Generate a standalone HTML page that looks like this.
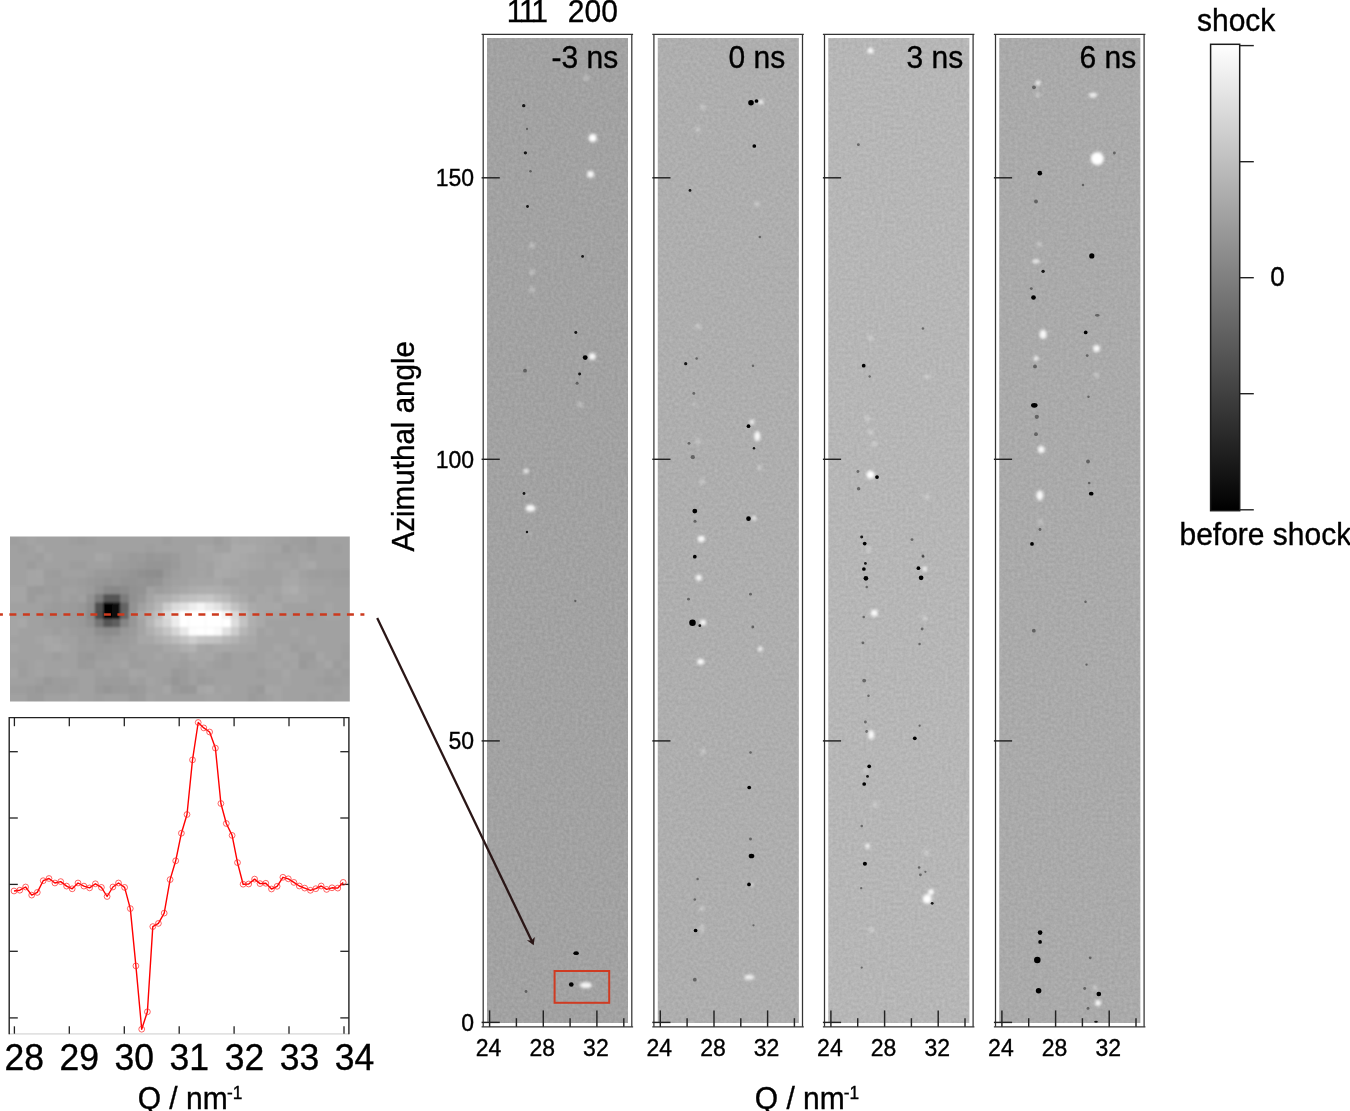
<!DOCTYPE html>
<html lang="en"><head><meta charset="utf-8"><title>Azimuthal angle vs Q diffraction difference maps</title>
<style>html,body{margin:0;padding:0;background:#fff}body{width:1350px;height:1111px;overflow:hidden}svg{display:block}text{font-family:"Liberation Sans", Arial, Helvetica, sans-serif;fill:#000;stroke:#000;stroke-width:0.35px}</style></head><body>
<svg width="1350" height="1111" viewBox="0 0 1350 1111">
<defs>
<filter id="n0" x="0" y="0" width="100%" height="100%" color-interpolation-filters="sRGB"><feTurbulence type="fractalNoise" baseFrequency="0.33" numOctaves="2" seed="3"/><feColorMatrix type="matrix" values="0.100 0 0 0 0.5853  0.100 0 0 0 0.5853  0.100 0 0 0 0.5853  0 0 0 0 1"/></filter>
<filter id="n1" x="0" y="0" width="100%" height="100%" color-interpolation-filters="sRGB"><feTurbulence type="fractalNoise" baseFrequency="0.33" numOctaves="2" seed="7"/><feColorMatrix type="matrix" values="0.100 0 0 0 0.6324  0.100 0 0 0 0.6324  0.100 0 0 0 0.6324  0 0 0 0 1"/></filter>
<filter id="n2" x="0" y="0" width="100%" height="100%" color-interpolation-filters="sRGB"><feTurbulence type="fractalNoise" baseFrequency="0.33" numOctaves="2" seed="11"/><feColorMatrix type="matrix" values="0.100 0 0 0 0.6637  0.100 0 0 0 0.6637  0.100 0 0 0 0.6637  0 0 0 0 1"/></filter>
<filter id="n3" x="0" y="0" width="100%" height="100%" color-interpolation-filters="sRGB"><feTurbulence type="fractalNoise" baseFrequency="0.33" numOctaves="2" seed="15"/><feColorMatrix type="matrix" values="0.100 0 0 0 0.6167  0.100 0 0 0 0.6167  0.100 0 0 0 0.6167  0 0 0 0 1"/></filter>
<filter id="b1" x="-50%" y="-50%" width="200%" height="200%"><feGaussianBlur stdDeviation="0.75"/></filter>
<filter id="b2" x="-50%" y="-50%" width="200%" height="200%"><feGaussianBlur stdDeviation="1.4"/></filter>
<filter id="b3" x="-20%" y="-20%" width="140%" height="140%"><feGaussianBlur stdDeviation="1.3"/></filter>
<linearGradient id="cb" x1="0" y1="0" x2="0" y2="1"><stop offset="0" stop-color="#fff"/><stop offset="1" stop-color="#000"/></linearGradient>
<clipPath id="insclip"><rect x="10" y="536.4" width="339.8" height="165.1"/></clipPath>
<clipPath id="c0"><rect x="487.1" y="38.1" width="140.9" height="984.9"/></clipPath>
<clipPath id="c1"><rect x="657.8" y="38.1" width="140.9" height="984.9"/></clipPath>
<clipPath id="c2"><rect x="828.4" y="38.1" width="140.9" height="984.9"/></clipPath>
<clipPath id="c3"><rect x="999.4" y="38.1" width="140.9" height="984.9"/></clipPath>
</defs>
<rect width="1350" height="1111" fill="#fff"/>
<g clip-path="url(#c0)">
<rect x="487.1" y="38.1" width="140.9" height="984.9" fill="#a2a2a2"/>
<rect x="487.1" y="38.1" width="140.9" height="984.9" fill="#a2a2a2" filter="url(#n0)"/>
<g filter="url(#b2)">
<circle cx="532.0" cy="245.5" r="2.85" fill="#ffffff" opacity="0.30"/>
<circle cx="531.7" cy="272.0" r="2.85" fill="#ffffff" opacity="0.30"/>
<circle cx="586.0" cy="78.0" r="2.85" fill="#ffffff" opacity="0.30"/>
<circle cx="580.0" cy="404.7" r="2.85" fill="#ffffff" opacity="0.30"/>
<circle cx="529.5" cy="533.0" r="1.42" fill="#ffffff" opacity="0.30"/>
<circle cx="532.0" cy="290.0" r="2.85" fill="#ffffff" opacity="0.30"/>
<circle cx="527.0" cy="495.0" r="1.42" fill="#ffffff" opacity="0.30"/>
</g>
<g filter="url(#b1)">
<circle cx="530.5" cy="171.2" r="1.23" fill="#303030" opacity="0.60"/>
<circle cx="577.1" cy="383.3" r="1.52" fill="#303030" opacity="0.60"/>
<circle cx="526.0" cy="991.5" r="1.42" fill="#303030" opacity="0.60"/>
<circle cx="575.3" cy="601.0" r="1.14" fill="#303030" opacity="0.60"/>
<circle cx="525.0" cy="370.7" r="1.90" fill="#303030" opacity="0.60"/>
<circle cx="527.0" cy="129.0" r="1.14" fill="#303030" opacity="0.60"/>
</g>
<g filter="url(#b2)">
<circle cx="592.7" cy="138.0" r="4.00" fill="#ffffff"/>
<circle cx="590.5" cy="174.2" r="3.50" fill="#ffffff" opacity="0.92"/>
<circle cx="592.2" cy="356.4" r="3.50" fill="#ffffff" opacity="0.92"/>
<circle cx="526.0" cy="471.0" r="2.50" fill="#ffffff" opacity="0.82"/>
<ellipse cx="530.5" cy="508.3" rx="5.00" ry="3.50" fill="#ffffff" opacity="0.92"/>
<ellipse cx="585.9" cy="985.2" rx="6.00" ry="3.00" fill="#ffffff" opacity="0.92"/>
</g>
<g filter="url(#b1)">
<circle cx="523.7" cy="105.7" r="1.67" fill="#050505" opacity="0.88"/>
<circle cx="525.4" cy="152.8" r="1.67" fill="#050505" opacity="0.88"/>
<circle cx="527.5" cy="206.5" r="1.40" fill="#050505" opacity="0.88"/>
<circle cx="582.6" cy="256.4" r="1.40" fill="#050505" opacity="0.88"/>
<circle cx="575.8" cy="332.4" r="1.49" fill="#050505" opacity="0.88"/>
<circle cx="585.2" cy="357.6" r="2.42" fill="#050505"/>
<circle cx="579.6" cy="374.0" r="1.49" fill="#050505" opacity="0.88"/>
<circle cx="524.0" cy="493.5" r="1.40" fill="#050505" opacity="0.88"/>
<circle cx="527.0" cy="532.0" r="1.21" fill="#050505" opacity="0.88"/>
<ellipse cx="576.1" cy="953.2" rx="2.79" ry="1.86" fill="#050505"/>
<circle cx="571.3" cy="984.5" r="2.33" fill="#050505"/>
</g>
</g>
<g stroke="#333" stroke-width="1.25" fill="none">
<path d="M481.6 34.3H633.1"/>
<path d="M481.6 1026.8H633.1"/>
<path d="M483.2 34.3V1026.8"/>
<path d="M631.8 34.3V1026.8"/>
</g>
<g stroke="#222" stroke-width="1.45">
<path d="M481.6 1022.4H499.8"/>
<path d="M481.6 740.9H499.8"/>
<path d="M481.6 459.3H499.8"/>
<path d="M481.6 177.8H499.8"/>
<path d="M489.6 1026.8V1010.4"/>
<path d="M516.4 1026.8V1018.2"/>
<path d="M543.3 1026.8V1010.4"/>
<path d="M570.1 1026.8V1018.2"/>
<path d="M596.9 1026.8V1010.4"/>
<path d="M623.8 1026.8V1018.2"/>
</g>
<text transform="translate(488.6 1055.8) scale(1 1.040)" font-size="23" text-anchor="middle">24</text>
<text transform="translate(542.3 1055.8) scale(1 1.040)" font-size="23" text-anchor="middle">28</text>
<text transform="translate(595.9 1055.8) scale(1 1.040)" font-size="23" text-anchor="middle">32</text>
<text transform="translate(551.6 67.5) scale(1 1.040)" font-size="30">-3 ns</text>
<g clip-path="url(#c1)">
<rect x="657.8" y="38.1" width="140.9" height="984.9" fill="#aeaeae"/>
<rect x="657.8" y="38.1" width="140.9" height="984.9" fill="#aeaeae" filter="url(#n1)"/>
<g filter="url(#b2)">
<circle cx="703.0" cy="107.0" r="2.85" fill="#ffffff" opacity="0.30"/>
<circle cx="698.0" cy="129.6" r="2.85" fill="#ffffff" opacity="0.30"/>
<circle cx="757.0" cy="204.0" r="2.85" fill="#ffffff" opacity="0.30"/>
<circle cx="698.0" cy="326.6" r="2.85" fill="#ffffff" opacity="0.30"/>
<circle cx="693.8" cy="404.7" r="1.90" fill="#ffffff" opacity="0.30"/>
<circle cx="698.0" cy="441.3" r="2.85" fill="#ffffff" opacity="0.30"/>
<circle cx="759.8" cy="467.8" r="2.85" fill="#ffffff" opacity="0.30"/>
<circle cx="701.9" cy="481.6" r="2.85" fill="#ffffff" opacity="0.30"/>
<circle cx="700.6" cy="540.0" r="2.85" fill="#ffffff" opacity="0.30"/>
<circle cx="703.0" cy="751.7" r="2.85" fill="#ffffff" opacity="0.30"/>
<circle cx="701.9" cy="908.4" r="2.85" fill="#ffffff" opacity="0.30"/>
<ellipse cx="701.9" cy="928.5" rx="2.38" ry="4.75" fill="#ffffff" opacity="0.30"/>
</g>
<g filter="url(#b1)">
<circle cx="759.8" cy="237.0" r="1.23" fill="#303030" opacity="0.60"/>
<circle cx="696.6" cy="358.6" r="1.23" fill="#303030" opacity="0.60"/>
<circle cx="753.0" cy="365.7" r="1.23" fill="#303030" opacity="0.60"/>
<circle cx="693.8" cy="393.4" r="1.42" fill="#303030" opacity="0.60"/>
<circle cx="689.0" cy="443.3" r="1.42" fill="#303030" opacity="0.60"/>
<circle cx="692.8" cy="457.2" r="2.09" fill="#303030" opacity="0.60"/>
<circle cx="695.0" cy="521.2" r="1.52" fill="#303030" opacity="0.60"/>
<circle cx="688.5" cy="599.2" r="1.42" fill="#303030" opacity="0.60"/>
<circle cx="750.5" cy="594.2" r="1.42" fill="#303030" opacity="0.60"/>
<circle cx="752.8" cy="627.0" r="1.42" fill="#303030" opacity="0.60"/>
<circle cx="750.5" cy="752.4" r="1.23" fill="#303030" opacity="0.60"/>
<circle cx="750.5" cy="839.0" r="1.42" fill="#303030" opacity="0.60"/>
<circle cx="697.6" cy="878.9" r="1.23" fill="#303030" opacity="0.60"/>
<circle cx="694.8" cy="899.5" r="1.23" fill="#303030" opacity="0.60"/>
<circle cx="753.5" cy="925.3" r="1.14" fill="#303030" opacity="0.60"/>
<circle cx="694.8" cy="979.7" r="1.90" fill="#303030" opacity="0.60"/>
</g>
<g filter="url(#b2)">
<circle cx="761.0" cy="102.0" r="2.50" fill="#ffffff" opacity="0.82"/>
<circle cx="752.0" cy="422.0" r="2.50" fill="#ffffff" opacity="0.82"/>
<ellipse cx="757.3" cy="436.3" rx="3.00" ry="5.00" fill="#ffffff" opacity="0.92"/>
<circle cx="754.0" cy="518.2" r="2.20" fill="#ffffff" opacity="0.82"/>
<ellipse cx="701.4" cy="538.8" rx="3.50" ry="3.00" fill="#ffffff" opacity="0.92"/>
<circle cx="698.8" cy="577.8" r="3.00" fill="#ffffff" opacity="0.92"/>
<circle cx="703.1" cy="622.4" r="3.00" fill="#ffffff" opacity="0.92"/>
<circle cx="760.3" cy="648.9" r="2.50" fill="#ffffff" opacity="0.82"/>
<ellipse cx="700.6" cy="661.7" rx="3.50" ry="3.00" fill="#ffffff" opacity="0.92"/>
<ellipse cx="749.2" cy="977.2" rx="5.00" ry="2.50" fill="#ffffff" opacity="0.82"/>
<circle cx="752.0" cy="884.4" r="1.50" fill="#ffffff" opacity="0.82"/>
</g>
<g filter="url(#b1)">
<circle cx="751.0" cy="102.7" r="2.79" fill="#050505"/>
<circle cx="756.5" cy="101.0" r="1.86" fill="#050505"/>
<circle cx="754.3" cy="146.0" r="1.86" fill="#050505"/>
<circle cx="690.0" cy="190.4" r="1.40" fill="#050505" opacity="0.88"/>
<circle cx="685.7" cy="363.7" r="1.58" fill="#050505" opacity="0.88"/>
<circle cx="748.5" cy="426.2" r="1.86" fill="#050505"/>
<circle cx="754.0" cy="448.3" r="1.21" fill="#050505" opacity="0.88"/>
<circle cx="694.8" cy="511.1" r="2.42" fill="#050505"/>
<circle cx="748.5" cy="518.7" r="2.33" fill="#050505"/>
<circle cx="694.8" cy="556.7" r="1.86" fill="#050505"/>
<circle cx="692.5" cy="622.7" r="3.26" fill="#050505"/>
<circle cx="699.8" cy="625.7" r="1.40" fill="#050505" opacity="0.88"/>
<circle cx="749.2" cy="787.5" r="1.86" fill="#050505"/>
<ellipse cx="751.5" cy="856.0" rx="2.79" ry="2.33" fill="#050505"/>
<circle cx="749.0" cy="884.4" r="1.86" fill="#050505"/>
<circle cx="695.6" cy="930.5" r="1.86" fill="#050505"/>
</g>
</g>
<g stroke="#333" stroke-width="1.25" fill="none">
<path d="M652.3 34.3H803.8"/>
<path d="M652.3 1026.8H803.8"/>
<path d="M653.9 34.3V1026.8"/>
<path d="M802.5 34.3V1026.8"/>
</g>
<g stroke="#222" stroke-width="1.45">
<path d="M652.3 1022.4H670.5"/>
<path d="M652.3 740.9H670.5"/>
<path d="M652.3 459.3H670.5"/>
<path d="M652.3 177.8H670.5"/>
<path d="M660.3 1026.8V1010.4"/>
<path d="M687.1 1026.8V1018.2"/>
<path d="M714.0 1026.8V1010.4"/>
<path d="M740.8 1026.8V1018.2"/>
<path d="M767.6 1026.8V1010.4"/>
<path d="M794.4 1026.8V1018.2"/>
</g>
<text transform="translate(659.3 1055.8) scale(1 1.040)" font-size="23" text-anchor="middle">24</text>
<text transform="translate(713.0 1055.8) scale(1 1.040)" font-size="23" text-anchor="middle">28</text>
<text transform="translate(766.6 1055.8) scale(1 1.040)" font-size="23" text-anchor="middle">32</text>
<text transform="translate(728.5 67.5) scale(1 1.040)" font-size="30">0 ns</text>
<g clip-path="url(#c2)">
<rect x="828.4" y="38.1" width="140.9" height="984.9" fill="#b6b6b6"/>
<rect x="828.4" y="38.1" width="140.9" height="984.9" fill="#b6b6b6" filter="url(#n2)"/>
<g filter="url(#b2)">
<circle cx="863.7" cy="213.5" r="1.42" fill="#ffffff" opacity="0.30"/>
<circle cx="927.2" cy="376.5" r="2.85" fill="#ffffff" opacity="0.30"/>
<circle cx="870.5" cy="338.0" r="2.85" fill="#ffffff" opacity="0.30"/>
<circle cx="867.5" cy="418.6" r="2.85" fill="#ffffff" opacity="0.30"/>
<circle cx="870.5" cy="432.0" r="2.85" fill="#ffffff" opacity="0.30"/>
<circle cx="874.3" cy="443.8" r="2.85" fill="#ffffff" opacity="0.30"/>
<circle cx="926.7" cy="496.7" r="2.85" fill="#ffffff" opacity="0.30"/>
<circle cx="868.5" cy="549.5" r="2.85" fill="#ffffff" opacity="0.30"/>
<circle cx="924.7" cy="618.1" r="2.85" fill="#ffffff" opacity="0.30"/>
<circle cx="866.0" cy="770.6" r="2.85" fill="#ffffff" opacity="0.30"/>
<circle cx="875.5" cy="804.6" r="2.85" fill="#ffffff" opacity="0.30"/>
<circle cx="926.4" cy="852.4" r="2.85" fill="#ffffff" opacity="0.30"/>
<circle cx="871.2" cy="929.8" r="2.85" fill="#ffffff" opacity="0.30"/>
</g>
<g filter="url(#b1)">
<circle cx="858.4" cy="144.7" r="1.42" fill="#303030" opacity="0.60"/>
<circle cx="922.9" cy="328.6" r="1.23" fill="#303030" opacity="0.60"/>
<circle cx="869.7" cy="376.5" r="1.23" fill="#303030" opacity="0.60"/>
<circle cx="857.9" cy="471.5" r="1.42" fill="#303030" opacity="0.60"/>
<circle cx="858.6" cy="488.7" r="1.71" fill="#303030" opacity="0.60"/>
<circle cx="912.0" cy="539.6" r="1.42" fill="#303030" opacity="0.60"/>
<circle cx="922.9" cy="556.0" r="1.42" fill="#303030" opacity="0.60"/>
<circle cx="866.7" cy="587.1" r="1.23" fill="#303030" opacity="0.60"/>
<circle cx="923.2" cy="556.4" r="1.23" fill="#303030" opacity="0.60"/>
<circle cx="863.7" cy="616.9" r="1.23" fill="#303030" opacity="0.60"/>
<circle cx="922.1" cy="629.0" r="1.42" fill="#303030" opacity="0.60"/>
<circle cx="862.9" cy="642.8" r="1.42" fill="#303030" opacity="0.60"/>
<circle cx="919.6" cy="644.1" r="1.23" fill="#303030" opacity="0.60"/>
<circle cx="864.2" cy="680.6" r="1.90" fill="#303030" opacity="0.60"/>
<circle cx="868.5" cy="695.7" r="1.23" fill="#303030" opacity="0.60"/>
<circle cx="865.4" cy="722.0" r="1.42" fill="#303030" opacity="0.60"/>
<circle cx="866.7" cy="731.5" r="1.42" fill="#303030" opacity="0.60"/>
<circle cx="919.6" cy="725.7" r="1.14" fill="#303030" opacity="0.60"/>
<circle cx="861.7" cy="826.0" r="1.23" fill="#303030" opacity="0.60"/>
<circle cx="919.1" cy="867.5" r="1.23" fill="#303030" opacity="0.60"/>
<circle cx="920.4" cy="874.8" r="1.42" fill="#303030" opacity="0.60"/>
<circle cx="925.4" cy="871.8" r="1.14" fill="#303030" opacity="0.60"/>
<circle cx="861.2" cy="888.2" r="1.14" fill="#303030" opacity="0.60"/>
<circle cx="861.7" cy="967.6" r="1.14" fill="#303030" opacity="0.60"/>
</g>
<g filter="url(#b2)">
<circle cx="870.5" cy="50.7" r="3.00" fill="#ffffff" opacity="0.92"/>
<circle cx="870.5" cy="474.8" r="4.00" fill="#ffffff"/>
<circle cx="924.7" cy="569.0" r="2.50" fill="#ffffff" opacity="0.82"/>
<circle cx="874.3" cy="613.1" r="3.50" fill="#ffffff" opacity="0.92"/>
<ellipse cx="871.2" cy="734.8" rx="3.00" ry="4.50" fill="#ffffff" opacity="0.92"/>
<circle cx="867.5" cy="846.1" r="2.50" fill="#ffffff" opacity="0.82"/>
<circle cx="927.2" cy="899.0" r="4.50" fill="#ffffff"/>
<circle cx="931.0" cy="892.0" r="3.00" fill="#ffffff" opacity="0.92"/>
</g>
<g filter="url(#b1)">
<circle cx="863.7" cy="365.7" r="1.86" fill="#050505"/>
<circle cx="877.0" cy="477.1" r="1.86" fill="#050505"/>
<circle cx="861.7" cy="537.0" r="1.49" fill="#050505" opacity="0.88"/>
<circle cx="864.7" cy="543.6" r="1.86" fill="#050505"/>
<circle cx="865.4" cy="563.4" r="1.40" fill="#050505" opacity="0.88"/>
<circle cx="863.9" cy="569.0" r="1.86" fill="#050505"/>
<circle cx="865.9" cy="578.3" r="2.33" fill="#050505"/>
<circle cx="918.4" cy="568.2" r="1.86" fill="#050505"/>
<circle cx="921.1" cy="577.8" r="2.33" fill="#050505"/>
<circle cx="914.8" cy="738.3" r="1.86" fill="#050505"/>
<circle cx="869.2" cy="766.3" r="1.86" fill="#050505"/>
<circle cx="867.5" cy="776.4" r="1.40" fill="#050505" opacity="0.88"/>
<circle cx="864.2" cy="784.0" r="1.86" fill="#050505"/>
<circle cx="864.9" cy="863.8" r="2.05" fill="#050505"/>
<circle cx="932.2" cy="903.3" r="1.40" fill="#050505" opacity="0.88"/>
</g>
</g>
<g stroke="#333" stroke-width="1.25" fill="none">
<path d="M822.9 34.3H974.4"/>
<path d="M822.9 1026.8H974.4"/>
<path d="M824.5 34.3V1026.8"/>
<path d="M973.1 34.3V1026.8"/>
</g>
<g stroke="#222" stroke-width="1.45">
<path d="M822.9 1022.4H841.1"/>
<path d="M822.9 740.9H841.1"/>
<path d="M822.9 459.3H841.1"/>
<path d="M822.9 177.8H841.1"/>
<path d="M830.9 1026.8V1010.4"/>
<path d="M857.7 1026.8V1018.2"/>
<path d="M884.6 1026.8V1010.4"/>
<path d="M911.4 1026.8V1018.2"/>
<path d="M938.2 1026.8V1010.4"/>
<path d="M965.0 1026.8V1018.2"/>
</g>
<text transform="translate(829.9 1055.8) scale(1 1.040)" font-size="23" text-anchor="middle">24</text>
<text transform="translate(883.6 1055.8) scale(1 1.040)" font-size="23" text-anchor="middle">28</text>
<text transform="translate(937.2 1055.8) scale(1 1.040)" font-size="23" text-anchor="middle">32</text>
<text transform="translate(906.6 67.5) scale(1 1.040)" font-size="30">3 ns</text>
<g clip-path="url(#c3)">
<rect x="999.4" y="38.1" width="140.9" height="984.9" fill="#aaaaaa"/>
<rect x="999.4" y="38.1" width="140.9" height="984.9" fill="#aaaaaa" filter="url(#n3)"/>
<g filter="url(#b2)">
<circle cx="1038.0" cy="95.0" r="2.85" fill="#ffffff" opacity="0.30"/>
<circle cx="1039.3" cy="244.3" r="2.85" fill="#ffffff" opacity="0.30"/>
<circle cx="1096.5" cy="375.3" r="2.85" fill="#ffffff" opacity="0.30"/>
<circle cx="1040.6" cy="522.0" r="2.85" fill="#ffffff" opacity="0.30"/>
<circle cx="1095.0" cy="988.0" r="2.85" fill="#ffffff" opacity="0.30"/>
</g>
<g filter="url(#b1)">
<circle cx="1034.0" cy="87.3" r="1.90" fill="#303030" opacity="0.60"/>
<circle cx="1114.4" cy="153.0" r="1.42" fill="#303030" opacity="0.60"/>
<circle cx="1036.0" cy="201.5" r="1.90" fill="#303030" opacity="0.60"/>
<circle cx="1083.0" cy="185.0" r="1.23" fill="#303030" opacity="0.60"/>
<circle cx="1031.3" cy="288.6" r="1.42" fill="#303030" opacity="0.60"/>
<ellipse cx="1097.3" cy="315.3" rx="2.38" ry="1.42" fill="#303030" opacity="0.60"/>
<circle cx="1087.2" cy="355.6" r="1.42" fill="#303030" opacity="0.60"/>
<circle cx="1035.0" cy="366.4" r="1.90" fill="#303030" opacity="0.60"/>
<circle cx="1088.5" cy="396.7" r="1.23" fill="#303030" opacity="0.60"/>
<circle cx="1036.8" cy="416.8" r="2.09" fill="#303030" opacity="0.60"/>
<circle cx="1036.0" cy="434.2" r="1.90" fill="#303030" opacity="0.60"/>
<circle cx="1088.0" cy="461.5" r="1.90" fill="#303030" opacity="0.60"/>
<circle cx="1089.2" cy="482.9" r="1.23" fill="#303030" opacity="0.60"/>
<circle cx="1040.0" cy="529.5" r="1.42" fill="#303030" opacity="0.60"/>
<circle cx="1085.5" cy="601.7" r="1.23" fill="#303030" opacity="0.60"/>
<circle cx="1033.8" cy="630.7" r="1.90" fill="#303030" opacity="0.60"/>
<circle cx="1086.5" cy="664.7" r="1.14" fill="#303030" opacity="0.60"/>
<circle cx="1090.2" cy="957.8" r="1.42" fill="#303030" opacity="0.60"/>
<circle cx="1084.7" cy="988.5" r="1.42" fill="#303030" opacity="0.60"/>
<circle cx="1088.0" cy="1008.4" r="1.42" fill="#303030" opacity="0.60"/>
</g>
<g filter="url(#b2)">
<circle cx="1038.0" cy="83.0" r="2.50" fill="#ffffff" opacity="0.82"/>
<ellipse cx="1093.0" cy="95.1" rx="4.00" ry="2.50" fill="#ffffff" opacity="0.82"/>
<circle cx="1097.3" cy="158.6" r="6.50" fill="#ffffff"/>
<ellipse cx="1036.0" cy="261.2" rx="3.50" ry="2.00" fill="#ffffff" opacity="0.82"/>
<ellipse cx="1043.1" cy="334.2" rx="3.50" ry="4.50" fill="#ffffff" opacity="0.92"/>
<circle cx="1096.5" cy="348.5" r="3.50" fill="#ffffff" opacity="0.92"/>
<circle cx="1036.0" cy="358.6" r="2.50" fill="#ffffff" opacity="0.82"/>
<circle cx="1041.3" cy="449.6" r="3.50" fill="#ffffff" opacity="0.92"/>
<ellipse cx="1039.8" cy="495.5" rx="3.50" ry="5.00" fill="#ffffff" opacity="0.92"/>
<circle cx="1098.0" cy="1002.9" r="3.00" fill="#ffffff" opacity="0.92"/>
</g>
<g filter="url(#b1)">
<circle cx="1039.8" cy="173.2" r="2.33" fill="#050505"/>
<circle cx="1043.1" cy="271.3" r="1.67" fill="#050505" opacity="0.88"/>
<circle cx="1091.8" cy="255.9" r="2.60" fill="#050505"/>
<circle cx="1033.5" cy="297.5" r="2.33" fill="#050505"/>
<circle cx="1085.7" cy="332.4" r="1.86" fill="#050505"/>
<ellipse cx="1034.3" cy="405.3" rx="3.26" ry="2.33" fill="#050505"/>
<ellipse cx="1091.2" cy="493.7" rx="2.33" ry="1.86" fill="#050505"/>
<circle cx="1032.0" cy="543.9" r="1.86" fill="#050505"/>
<circle cx="1040.1" cy="932.6" r="2.33" fill="#050505"/>
<circle cx="1040.1" cy="941.9" r="1.86" fill="#050505"/>
<circle cx="1037.3" cy="960.0" r="3.26" fill="#050505"/>
<circle cx="1038.6" cy="990.8" r="2.79" fill="#050505"/>
<circle cx="1098.8" cy="994.0" r="2.33" fill="#050505"/>
<ellipse cx="1096.0" cy="1021.8" rx="1.86" ry="0.93" fill="#050505" opacity="0.88"/>
</g>
</g>
<g stroke="#333" stroke-width="1.25" fill="none">
<path d="M993.9 34.3H1145.4"/>
<path d="M993.9 1026.8H1145.4"/>
<path d="M995.5 34.3V1026.8"/>
<path d="M1144.1 34.3V1026.8"/>
</g>
<g stroke="#222" stroke-width="1.45">
<path d="M993.9 1022.4H1012.1"/>
<path d="M993.9 740.9H1012.1"/>
<path d="M993.9 459.3H1012.1"/>
<path d="M993.9 177.8H1012.1"/>
<path d="M1001.9 1026.8V1010.4"/>
<path d="M1028.7 1026.8V1018.2"/>
<path d="M1055.6 1026.8V1010.4"/>
<path d="M1082.4 1026.8V1018.2"/>
<path d="M1109.2 1026.8V1010.4"/>
<path d="M1136.0 1026.8V1018.2"/>
</g>
<text transform="translate(1000.9 1055.8) scale(1 1.040)" font-size="23" text-anchor="middle">24</text>
<text transform="translate(1054.6 1055.8) scale(1 1.040)" font-size="23" text-anchor="middle">28</text>
<text transform="translate(1108.2 1055.8) scale(1 1.040)" font-size="23" text-anchor="middle">32</text>
<text transform="translate(1079.6 67.5) scale(1 1.040)" font-size="30">6 ns</text>
<text transform="translate(474.0 1030.6) scale(1 1.040)" font-size="23" text-anchor="end">0</text>
<text transform="translate(474.0 749.1) scale(1 1.040)" font-size="23" text-anchor="end">50</text>
<text transform="translate(474.0 467.5) scale(1 1.040)" font-size="23" text-anchor="end">100</text>
<text transform="translate(474.0 186.0) scale(1 1.040)" font-size="23" text-anchor="end">150</text>
<text transform="translate(413.8 551.5) rotate(-90) scale(1 1.040)" font-size="29.6">Azimuthal angle</text>
<text transform="translate(754.8 1109.1) scale(1 1.040)" font-size="30">Q / nm</text>
<text transform="translate(843.7 1099.3) scale(1 1.040)" font-size="17.3">-1</text>
<text transform="translate(506.7 21.5) scale(1 1.040)" font-size="30" letter-spacing="-2.2">111</text>
<text transform="translate(567.8 21.5) scale(1 1.040)" font-size="30">200</text>
<rect x="554.6" y="971" width="54.6" height="31.8" fill="none" stroke="#cf3b22" stroke-width="2"/>
<path d="M377.2 618L532 941.6" stroke="#2a1616" stroke-width="2.3" fill="none"/>
<path d="M533.7 945.2L526.9 940.3L531.4 940.4L534.8 936.9Z" fill="#2a1616"/>
<rect x="1210.6" y="44.3" width="29.1" height="466.4" fill="url(#cb)" stroke="#1c1c1c" stroke-width="1.5"/>
<g stroke="#222" stroke-width="1.4">
<path d="M1239.7 45.6H1253.8"/>
<path d="M1239.7 161.7H1253.8"/>
<path d="M1239.7 277.7H1253.8"/>
<path d="M1239.7 393.7H1253.8"/>
<path d="M1239.7 509.8H1253.8"/>
</g>
<text transform="translate(1197.0 30.7) scale(1 1.040)" font-size="30">shock</text>
<text transform="translate(1179.5 544.5) scale(1 1.040)" font-size="30">before shock</text>
<text transform="translate(1270.2 285.7) scale(1 1.040)" font-size="26">0</text>
<g clip-path="url(#insclip)"><g filter="url(#b3)">
<rect x="0" y="526" width="360" height="186" fill="#a1a1a1"/>
<rect x="9.8" y="536.3" width="8.90" height="8.68" fill="#9e9e9e"/>
<rect x="26.8" y="536.3" width="8.90" height="8.68" fill="#a4a4a4"/>
<rect x="69.3" y="536.3" width="8.90" height="8.68" fill="#9e9e9e"/>
<rect x="77.8" y="536.3" width="8.90" height="8.68" fill="#9c9c9c"/>
<rect x="86.3" y="536.3" width="8.90" height="8.68" fill="#9e9e9e"/>
<rect x="162.8" y="536.3" width="8.90" height="8.68" fill="#9d9d9d"/>
<rect x="213.8" y="536.3" width="8.90" height="8.68" fill="#9c9c9c"/>
<rect x="230.8" y="536.3" width="8.90" height="8.68" fill="#a7a7a7"/>
<rect x="239.3" y="536.3" width="8.90" height="8.68" fill="#a5a5a5"/>
<rect x="247.8" y="536.3" width="8.90" height="8.68" fill="#a6a6a6"/>
<rect x="256.3" y="536.3" width="8.90" height="8.68" fill="#a5a5a5"/>
<rect x="264.8" y="536.3" width="8.90" height="8.68" fill="#a4a4a4"/>
<rect x="290.3" y="536.3" width="8.90" height="8.68" fill="#9e9e9e"/>
<rect x="298.8" y="536.3" width="8.90" height="8.68" fill="#9e9e9e"/>
<rect x="307.3" y="536.3" width="8.90" height="8.68" fill="#9a9a9a"/>
<rect x="18.3" y="544.6" width="8.90" height="8.68" fill="#9e9e9e"/>
<rect x="35.3" y="544.6" width="8.90" height="8.68" fill="#a6a6a6"/>
<rect x="145.8" y="544.6" width="8.90" height="8.68" fill="#9e9e9e"/>
<rect x="196.8" y="544.6" width="8.90" height="8.68" fill="#a7a7a7"/>
<rect x="205.3" y="544.6" width="8.90" height="8.68" fill="#a6a6a6"/>
<rect x="230.8" y="544.6" width="8.90" height="8.68" fill="#aaaaaa"/>
<rect x="239.3" y="544.6" width="8.90" height="8.68" fill="#aaaaaa"/>
<rect x="247.8" y="544.6" width="8.90" height="8.68" fill="#aaaaaa"/>
<rect x="256.3" y="544.6" width="8.90" height="8.68" fill="#a6a6a6"/>
<rect x="264.8" y="544.6" width="8.90" height="8.68" fill="#a4a4a4"/>
<rect x="273.3" y="544.6" width="8.90" height="8.68" fill="#a4a4a4"/>
<rect x="281.8" y="544.6" width="8.90" height="8.68" fill="#9b9b9b"/>
<rect x="298.8" y="544.6" width="8.90" height="8.68" fill="#9e9e9e"/>
<rect x="307.3" y="544.6" width="8.90" height="8.68" fill="#9c9c9c"/>
<rect x="332.8" y="544.6" width="8.90" height="8.68" fill="#9e9e9e"/>
<rect x="35.3" y="552.8" width="8.90" height="8.68" fill="#9e9e9e"/>
<rect x="43.8" y="552.8" width="8.90" height="8.68" fill="#a5a5a5"/>
<rect x="94.8" y="552.8" width="8.90" height="8.68" fill="#a7a7a7"/>
<rect x="103.3" y="552.8" width="8.90" height="8.68" fill="#a5a5a5"/>
<rect x="111.8" y="552.8" width="8.90" height="8.68" fill="#9e9e9e"/>
<rect x="120.3" y="552.8" width="8.90" height="8.68" fill="#9e9e9e"/>
<rect x="128.8" y="552.8" width="8.90" height="8.68" fill="#9a9a9a"/>
<rect x="137.3" y="552.8" width="8.90" height="8.68" fill="#9b9b9b"/>
<rect x="145.8" y="552.8" width="8.90" height="8.68" fill="#979797"/>
<rect x="154.3" y="552.8" width="8.90" height="8.68" fill="#999999"/>
<rect x="162.8" y="552.8" width="8.90" height="8.68" fill="#989898"/>
<rect x="171.3" y="552.8" width="8.90" height="8.68" fill="#9b9b9b"/>
<rect x="196.8" y="552.8" width="8.90" height="8.68" fill="#a4a4a4"/>
<rect x="205.3" y="552.8" width="8.90" height="8.68" fill="#a5a5a5"/>
<rect x="213.8" y="552.8" width="8.90" height="8.68" fill="#a8a8a8"/>
<rect x="222.3" y="552.8" width="8.90" height="8.68" fill="#ababab"/>
<rect x="230.8" y="552.8" width="8.90" height="8.68" fill="#aaaaaa"/>
<rect x="239.3" y="552.8" width="8.90" height="8.68" fill="#a8a8a8"/>
<rect x="247.8" y="552.8" width="8.90" height="8.68" fill="#a5a5a5"/>
<rect x="256.3" y="552.8" width="8.90" height="8.68" fill="#a4a4a4"/>
<rect x="298.8" y="552.8" width="8.90" height="8.68" fill="#a5a5a5"/>
<rect x="26.8" y="561.1" width="8.90" height="8.68" fill="#9c9c9c"/>
<rect x="69.3" y="561.1" width="8.90" height="8.68" fill="#9d9d9d"/>
<rect x="77.8" y="561.1" width="8.90" height="8.68" fill="#9d9d9d"/>
<rect x="111.8" y="561.1" width="8.90" height="8.68" fill="#9c9c9c"/>
<rect x="120.3" y="561.1" width="8.90" height="8.68" fill="#9b9b9b"/>
<rect x="128.8" y="561.1" width="8.90" height="8.68" fill="#9a9a9a"/>
<rect x="137.3" y="561.1" width="8.90" height="8.68" fill="#989898"/>
<rect x="145.8" y="561.1" width="8.90" height="8.68" fill="#959595"/>
<rect x="154.3" y="561.1" width="8.90" height="8.68" fill="#959595"/>
<rect x="162.8" y="561.1" width="8.90" height="8.68" fill="#969696"/>
<rect x="171.3" y="561.1" width="8.90" height="8.68" fill="#9a9a9a"/>
<rect x="196.8" y="561.1" width="8.90" height="8.68" fill="#a4a4a4"/>
<rect x="213.8" y="561.1" width="8.90" height="8.68" fill="#a7a7a7"/>
<rect x="222.3" y="561.1" width="8.90" height="8.68" fill="#aaaaaa"/>
<rect x="230.8" y="561.1" width="8.90" height="8.68" fill="#a8a8a8"/>
<rect x="239.3" y="561.1" width="8.90" height="8.68" fill="#a9a9a9"/>
<rect x="247.8" y="561.1" width="8.90" height="8.68" fill="#a6a6a6"/>
<rect x="256.3" y="561.1" width="8.90" height="8.68" fill="#a5a5a5"/>
<rect x="273.3" y="561.1" width="8.90" height="8.68" fill="#a5a5a5"/>
<rect x="281.8" y="561.1" width="8.90" height="8.68" fill="#a5a5a5"/>
<rect x="298.8" y="561.1" width="8.90" height="8.68" fill="#a6a6a6"/>
<rect x="307.3" y="561.1" width="8.90" height="8.68" fill="#a9a9a9"/>
<rect x="26.8" y="569.4" width="8.90" height="8.68" fill="#a5a5a5"/>
<rect x="35.3" y="569.4" width="8.90" height="8.68" fill="#a6a6a6"/>
<rect x="43.8" y="569.4" width="8.90" height="8.68" fill="#9d9d9d"/>
<rect x="52.3" y="569.4" width="8.90" height="8.68" fill="#9c9c9c"/>
<rect x="86.3" y="569.4" width="8.90" height="8.68" fill="#9e9e9e"/>
<rect x="94.8" y="569.4" width="8.90" height="8.68" fill="#9a9a9a"/>
<rect x="103.3" y="569.4" width="8.90" height="8.68" fill="#9a9a9a"/>
<rect x="111.8" y="569.4" width="8.90" height="8.68" fill="#989898"/>
<rect x="120.3" y="569.4" width="8.90" height="8.68" fill="#979797"/>
<rect x="128.8" y="569.4" width="8.90" height="8.68" fill="#949494"/>
<rect x="137.3" y="569.4" width="8.90" height="8.68" fill="#909090"/>
<rect x="145.8" y="569.4" width="8.90" height="8.68" fill="#8e8e8e"/>
<rect x="154.3" y="569.4" width="8.90" height="8.68" fill="#8d8d8d"/>
<rect x="162.8" y="569.4" width="8.90" height="8.68" fill="#989898"/>
<rect x="171.3" y="569.4" width="8.90" height="8.68" fill="#9e9e9e"/>
<rect x="196.8" y="569.4" width="8.90" height="8.68" fill="#a4a4a4"/>
<rect x="213.8" y="569.4" width="8.90" height="8.68" fill="#aaaaaa"/>
<rect x="222.3" y="569.4" width="8.90" height="8.68" fill="#a9a9a9"/>
<rect x="230.8" y="569.4" width="8.90" height="8.68" fill="#a7a7a7"/>
<rect x="239.3" y="569.4" width="8.90" height="8.68" fill="#a4a4a4"/>
<rect x="281.8" y="569.4" width="8.90" height="8.68" fill="#a4a4a4"/>
<rect x="290.3" y="569.4" width="8.90" height="8.68" fill="#a7a7a7"/>
<rect x="307.3" y="569.4" width="8.90" height="8.68" fill="#9e9e9e"/>
<rect x="315.8" y="569.4" width="8.90" height="8.68" fill="#9d9d9d"/>
<rect x="324.3" y="569.4" width="8.90" height="8.68" fill="#9e9e9e"/>
<rect x="332.8" y="569.4" width="8.90" height="8.68" fill="#9d9d9d"/>
<rect x="341.3" y="569.4" width="8.90" height="8.68" fill="#9c9c9c"/>
<rect x="26.8" y="577.7" width="8.90" height="8.68" fill="#a5a5a5"/>
<rect x="35.3" y="577.7" width="8.90" height="8.68" fill="#a5a5a5"/>
<rect x="43.8" y="577.7" width="8.90" height="8.68" fill="#9e9e9e"/>
<rect x="52.3" y="577.7" width="8.90" height="8.68" fill="#9e9e9e"/>
<rect x="60.8" y="577.7" width="8.90" height="8.68" fill="#9d9d9d"/>
<rect x="69.3" y="577.7" width="8.90" height="8.68" fill="#9e9e9e"/>
<rect x="77.8" y="577.7" width="8.90" height="8.68" fill="#9c9c9c"/>
<rect x="86.3" y="577.7" width="8.90" height="8.68" fill="#999999"/>
<rect x="94.8" y="577.7" width="8.90" height="8.68" fill="#979797"/>
<rect x="103.3" y="577.7" width="8.90" height="8.68" fill="#949494"/>
<rect x="111.8" y="577.7" width="8.90" height="8.68" fill="#979797"/>
<rect x="120.3" y="577.7" width="8.90" height="8.68" fill="#939393"/>
<rect x="128.8" y="577.7" width="8.90" height="8.68" fill="#939393"/>
<rect x="137.3" y="577.7" width="8.90" height="8.68" fill="#959595"/>
<rect x="145.8" y="577.7" width="8.90" height="8.68" fill="#929292"/>
<rect x="154.3" y="577.7" width="8.90" height="8.68" fill="#949494"/>
<rect x="162.8" y="577.7" width="8.90" height="8.68" fill="#9d9d9d"/>
<rect x="188.3" y="577.7" width="8.90" height="8.68" fill="#a5a5a5"/>
<rect x="196.8" y="577.7" width="8.90" height="8.68" fill="#a5a5a5"/>
<rect x="205.3" y="577.7" width="8.90" height="8.68" fill="#a5a5a5"/>
<rect x="213.8" y="577.7" width="8.90" height="8.68" fill="#a7a7a7"/>
<rect x="239.3" y="577.7" width="8.90" height="8.68" fill="#a4a4a4"/>
<rect x="281.8" y="577.7" width="8.90" height="8.68" fill="#a8a8a8"/>
<rect x="290.3" y="577.7" width="8.90" height="8.68" fill="#a8a8a8"/>
<rect x="298.8" y="577.7" width="8.90" height="8.68" fill="#a4a4a4"/>
<rect x="332.8" y="577.7" width="8.90" height="8.68" fill="#9e9e9e"/>
<rect x="341.3" y="577.7" width="8.90" height="8.68" fill="#9e9e9e"/>
<rect x="9.8" y="585.9" width="8.90" height="8.68" fill="#a5a5a5"/>
<rect x="18.3" y="585.9" width="8.90" height="8.68" fill="#a5a5a5"/>
<rect x="26.8" y="585.9" width="8.90" height="8.68" fill="#9b9b9b"/>
<rect x="35.3" y="585.9" width="8.90" height="8.68" fill="#9a9a9a"/>
<rect x="43.8" y="585.9" width="8.90" height="8.68" fill="#9d9d9d"/>
<rect x="52.3" y="585.9" width="8.90" height="8.68" fill="#9c9c9c"/>
<rect x="77.8" y="585.9" width="8.90" height="8.68" fill="#9e9e9e"/>
<rect x="86.3" y="585.9" width="8.90" height="8.68" fill="#9b9b9b"/>
<rect x="94.8" y="585.9" width="8.90" height="8.68" fill="#939393"/>
<rect x="103.3" y="585.9" width="8.90" height="8.68" fill="#898989"/>
<rect x="111.8" y="585.9" width="8.90" height="8.68" fill="#888888"/>
<rect x="120.3" y="585.9" width="8.90" height="8.68" fill="#8b8b8b"/>
<rect x="128.8" y="585.9" width="8.90" height="8.68" fill="#919191"/>
<rect x="137.3" y="585.9" width="8.90" height="8.68" fill="#939393"/>
<rect x="154.3" y="585.9" width="8.90" height="8.68" fill="#9d9d9d"/>
<rect x="171.3" y="585.9" width="8.90" height="8.68" fill="#a5a5a5"/>
<rect x="179.8" y="585.9" width="8.90" height="8.68" fill="#a8a8a8"/>
<rect x="188.3" y="585.9" width="8.90" height="8.68" fill="#acacac"/>
<rect x="196.8" y="585.9" width="8.90" height="8.68" fill="#aeaeae"/>
<rect x="205.3" y="585.9" width="8.90" height="8.68" fill="#afafaf"/>
<rect x="213.8" y="585.9" width="8.90" height="8.68" fill="#adadad"/>
<rect x="222.3" y="585.9" width="8.90" height="8.68" fill="#ababab"/>
<rect x="230.8" y="585.9" width="8.90" height="8.68" fill="#a7a7a7"/>
<rect x="239.3" y="585.9" width="8.90" height="8.68" fill="#a4a4a4"/>
<rect x="247.8" y="585.9" width="8.90" height="8.68" fill="#a4a4a4"/>
<rect x="264.8" y="585.9" width="8.90" height="8.68" fill="#a6a6a6"/>
<rect x="273.3" y="585.9" width="8.90" height="8.68" fill="#a4a4a4"/>
<rect x="281.8" y="585.9" width="8.90" height="8.68" fill="#ababab"/>
<rect x="290.3" y="585.9" width="8.90" height="8.68" fill="#aeaeae"/>
<rect x="298.8" y="585.9" width="8.90" height="8.68" fill="#a6a6a6"/>
<rect x="307.3" y="585.9" width="8.90" height="8.68" fill="#a4a4a4"/>
<rect x="315.8" y="585.9" width="8.90" height="8.68" fill="#a4a4a4"/>
<rect x="9.8" y="594.2" width="8.90" height="8.68" fill="#a5a5a5"/>
<rect x="18.3" y="594.2" width="8.90" height="8.68" fill="#a5a5a5"/>
<rect x="26.8" y="594.2" width="8.90" height="8.68" fill="#9b9b9b"/>
<rect x="52.3" y="594.2" width="8.90" height="8.68" fill="#9d9d9d"/>
<rect x="69.3" y="594.2" width="8.90" height="8.68" fill="#9d9d9d"/>
<rect x="86.3" y="594.2" width="8.90" height="8.68" fill="#939393"/>
<rect x="94.8" y="594.2" width="8.90" height="8.68" fill="#7b7b7b"/>
<rect x="103.3" y="594.2" width="8.90" height="8.68" fill="#555555"/>
<rect x="111.8" y="594.2" width="8.90" height="8.68" fill="#545454"/>
<rect x="120.3" y="594.2" width="8.90" height="8.68" fill="#7c7c7c"/>
<rect x="128.8" y="594.2" width="8.90" height="8.68" fill="#909090"/>
<rect x="137.3" y="594.2" width="8.90" height="8.68" fill="#979797"/>
<rect x="145.8" y="594.2" width="8.90" height="8.68" fill="#a4a4a4"/>
<rect x="154.3" y="594.2" width="8.90" height="8.68" fill="#adadad"/>
<rect x="162.8" y="594.2" width="8.90" height="8.68" fill="#afafaf"/>
<rect x="171.3" y="594.2" width="8.90" height="8.68" fill="#b6b6b6"/>
<rect x="179.8" y="594.2" width="8.90" height="8.68" fill="#bdbdbd"/>
<rect x="188.3" y="594.2" width="8.90" height="8.68" fill="#c0c0c0"/>
<rect x="196.8" y="594.2" width="8.90" height="8.68" fill="#c4c4c4"/>
<rect x="205.3" y="594.2" width="8.90" height="8.68" fill="#c6c6c6"/>
<rect x="213.8" y="594.2" width="8.90" height="8.68" fill="#bdbdbd"/>
<rect x="222.3" y="594.2" width="8.90" height="8.68" fill="#b8b8b8"/>
<rect x="230.8" y="594.2" width="8.90" height="8.68" fill="#adadad"/>
<rect x="239.3" y="594.2" width="8.90" height="8.68" fill="#a9a9a9"/>
<rect x="256.3" y="594.2" width="8.90" height="8.68" fill="#a7a7a7"/>
<rect x="264.8" y="594.2" width="8.90" height="8.68" fill="#a6a6a6"/>
<rect x="281.8" y="594.2" width="8.90" height="8.68" fill="#a7a7a7"/>
<rect x="290.3" y="594.2" width="8.90" height="8.68" fill="#a7a7a7"/>
<rect x="298.8" y="594.2" width="8.90" height="8.68" fill="#a7a7a7"/>
<rect x="43.8" y="602.5" width="8.90" height="8.68" fill="#9d9d9d"/>
<rect x="52.3" y="602.5" width="8.90" height="8.68" fill="#9b9b9b"/>
<rect x="60.8" y="602.5" width="8.90" height="8.68" fill="#9c9c9c"/>
<rect x="69.3" y="602.5" width="8.90" height="8.68" fill="#9b9b9b"/>
<rect x="77.8" y="602.5" width="8.90" height="8.68" fill="#989898"/>
<rect x="86.3" y="602.5" width="8.90" height="8.68" fill="#8e8e8e"/>
<rect x="94.8" y="602.5" width="8.90" height="8.68" fill="#505050"/>
<rect x="103.3" y="602.5" width="8.90" height="8.68" fill="#000000"/>
<rect x="111.8" y="602.5" width="8.90" height="8.68" fill="#0b0b0b"/>
<rect x="120.3" y="602.5" width="8.90" height="8.68" fill="#646464"/>
<rect x="128.8" y="602.5" width="8.90" height="8.68" fill="#939393"/>
<rect x="145.8" y="602.5" width="8.90" height="8.68" fill="#aaaaaa"/>
<rect x="154.3" y="602.5" width="8.90" height="8.68" fill="#b6b6b6"/>
<rect x="162.8" y="602.5" width="8.90" height="8.68" fill="#cacaca"/>
<rect x="171.3" y="602.5" width="8.90" height="8.68" fill="#dadada"/>
<rect x="179.8" y="602.5" width="8.90" height="8.68" fill="#e1e1e1"/>
<rect x="188.3" y="602.5" width="8.90" height="8.68" fill="#ededed"/>
<rect x="196.8" y="602.5" width="8.90" height="8.68" fill="#f5f5f5"/>
<rect x="205.3" y="602.5" width="8.90" height="8.68" fill="#eaeaea"/>
<rect x="213.8" y="602.5" width="8.90" height="8.68" fill="#e1e1e1"/>
<rect x="222.3" y="602.5" width="8.90" height="8.68" fill="#d1d1d1"/>
<rect x="230.8" y="602.5" width="8.90" height="8.68" fill="#c1c1c1"/>
<rect x="239.3" y="602.5" width="8.90" height="8.68" fill="#b5b5b5"/>
<rect x="247.8" y="602.5" width="8.90" height="8.68" fill="#aaaaaa"/>
<rect x="256.3" y="602.5" width="8.90" height="8.68" fill="#a7a7a7"/>
<rect x="264.8" y="602.5" width="8.90" height="8.68" fill="#a7a7a7"/>
<rect x="273.3" y="602.5" width="8.90" height="8.68" fill="#a8a8a8"/>
<rect x="324.3" y="602.5" width="8.90" height="8.68" fill="#a5a5a5"/>
<rect x="9.8" y="610.8" width="8.90" height="8.68" fill="#a4a4a4"/>
<rect x="18.3" y="610.8" width="8.90" height="8.68" fill="#a4a4a4"/>
<rect x="43.8" y="610.8" width="8.90" height="8.68" fill="#9a9a9a"/>
<rect x="52.3" y="610.8" width="8.90" height="8.68" fill="#9b9b9b"/>
<rect x="60.8" y="610.8" width="8.90" height="8.68" fill="#9e9e9e"/>
<rect x="69.3" y="610.8" width="8.90" height="8.68" fill="#9a9a9a"/>
<rect x="77.8" y="610.8" width="8.90" height="8.68" fill="#999999"/>
<rect x="86.3" y="610.8" width="8.90" height="8.68" fill="#8c8c8c"/>
<rect x="94.8" y="610.8" width="8.90" height="8.68" fill="#4e4e4e"/>
<rect x="103.3" y="610.8" width="8.90" height="8.68" fill="#000000"/>
<rect x="111.8" y="610.8" width="8.90" height="8.68" fill="#0f0f0f"/>
<rect x="120.3" y="610.8" width="8.90" height="8.68" fill="#656565"/>
<rect x="128.8" y="610.8" width="8.90" height="8.68" fill="#979797"/>
<rect x="137.3" y="610.8" width="8.90" height="8.68" fill="#a8a8a8"/>
<rect x="145.8" y="610.8" width="8.90" height="8.68" fill="#b3b3b3"/>
<rect x="154.3" y="610.8" width="8.90" height="8.68" fill="#c0c0c0"/>
<rect x="162.8" y="610.8" width="8.90" height="8.68" fill="#dbdbdb"/>
<rect x="171.3" y="610.8" width="8.90" height="8.68" fill="#efefef"/>
<rect x="179.8" y="610.8" width="8.90" height="8.68" fill="#ffffff"/>
<rect x="188.3" y="610.8" width="8.90" height="8.68" fill="#ffffff"/>
<rect x="196.8" y="610.8" width="8.90" height="8.68" fill="#ffffff"/>
<rect x="205.3" y="610.8" width="8.90" height="8.68" fill="#ffffff"/>
<rect x="213.8" y="610.8" width="8.90" height="8.68" fill="#ffffff"/>
<rect x="222.3" y="610.8" width="8.90" height="8.68" fill="#f4f4f4"/>
<rect x="230.8" y="610.8" width="8.90" height="8.68" fill="#d9d9d9"/>
<rect x="239.3" y="610.8" width="8.90" height="8.68" fill="#c0c0c0"/>
<rect x="247.8" y="610.8" width="8.90" height="8.68" fill="#b1b1b1"/>
<rect x="256.3" y="610.8" width="8.90" height="8.68" fill="#a9a9a9"/>
<rect x="264.8" y="610.8" width="8.90" height="8.68" fill="#a5a5a5"/>
<rect x="273.3" y="610.8" width="8.90" height="8.68" fill="#a5a5a5"/>
<rect x="281.8" y="610.8" width="8.90" height="8.68" fill="#a4a4a4"/>
<rect x="307.3" y="610.8" width="8.90" height="8.68" fill="#9e9e9e"/>
<rect x="324.3" y="610.8" width="8.90" height="8.68" fill="#a4a4a4"/>
<rect x="332.8" y="610.8" width="8.90" height="8.68" fill="#a4a4a4"/>
<rect x="9.8" y="619.0" width="8.90" height="8.68" fill="#a5a5a5"/>
<rect x="18.3" y="619.0" width="8.90" height="8.68" fill="#a8a8a8"/>
<rect x="43.8" y="619.0" width="8.90" height="8.68" fill="#9e9e9e"/>
<rect x="52.3" y="619.0" width="8.90" height="8.68" fill="#9e9e9e"/>
<rect x="60.8" y="619.0" width="8.90" height="8.68" fill="#9d9d9d"/>
<rect x="69.3" y="619.0" width="8.90" height="8.68" fill="#9b9b9b"/>
<rect x="77.8" y="619.0" width="8.90" height="8.68" fill="#999999"/>
<rect x="86.3" y="619.0" width="8.90" height="8.68" fill="#919191"/>
<rect x="94.8" y="619.0" width="8.90" height="8.68" fill="#767676"/>
<rect x="103.3" y="619.0" width="8.90" height="8.68" fill="#545454"/>
<rect x="111.8" y="619.0" width="8.90" height="8.68" fill="#5e5e5e"/>
<rect x="120.3" y="619.0" width="8.90" height="8.68" fill="#868686"/>
<rect x="128.8" y="619.0" width="8.90" height="8.68" fill="#979797"/>
<rect x="137.3" y="619.0" width="8.90" height="8.68" fill="#a4a4a4"/>
<rect x="145.8" y="619.0" width="8.90" height="8.68" fill="#b6b6b6"/>
<rect x="154.3" y="619.0" width="8.90" height="8.68" fill="#c8c8c8"/>
<rect x="162.8" y="619.0" width="8.90" height="8.68" fill="#d6d6d6"/>
<rect x="171.3" y="619.0" width="8.90" height="8.68" fill="#ececec"/>
<rect x="179.8" y="619.0" width="8.90" height="8.68" fill="#ffffff"/>
<rect x="188.3" y="619.0" width="8.90" height="8.68" fill="#ffffff"/>
<rect x="196.8" y="619.0" width="8.90" height="8.68" fill="#ffffff"/>
<rect x="205.3" y="619.0" width="8.90" height="8.68" fill="#ffffff"/>
<rect x="213.8" y="619.0" width="8.90" height="8.68" fill="#ffffff"/>
<rect x="222.3" y="619.0" width="8.90" height="8.68" fill="#ffffff"/>
<rect x="230.8" y="619.0" width="8.90" height="8.68" fill="#dddddd"/>
<rect x="239.3" y="619.0" width="8.90" height="8.68" fill="#c3c3c3"/>
<rect x="247.8" y="619.0" width="8.90" height="8.68" fill="#afafaf"/>
<rect x="256.3" y="619.0" width="8.90" height="8.68" fill="#a9a9a9"/>
<rect x="9.8" y="627.3" width="8.90" height="8.68" fill="#a5a5a5"/>
<rect x="52.3" y="627.3" width="8.90" height="8.68" fill="#9d9d9d"/>
<rect x="69.3" y="627.3" width="8.90" height="8.68" fill="#9d9d9d"/>
<rect x="77.8" y="627.3" width="8.90" height="8.68" fill="#9c9c9c"/>
<rect x="86.3" y="627.3" width="8.90" height="8.68" fill="#9a9a9a"/>
<rect x="94.8" y="627.3" width="8.90" height="8.68" fill="#8f8f8f"/>
<rect x="103.3" y="627.3" width="8.90" height="8.68" fill="#8c8c8c"/>
<rect x="111.8" y="627.3" width="8.90" height="8.68" fill="#8d8d8d"/>
<rect x="120.3" y="627.3" width="8.90" height="8.68" fill="#989898"/>
<rect x="128.8" y="627.3" width="8.90" height="8.68" fill="#9b9b9b"/>
<rect x="137.3" y="627.3" width="8.90" height="8.68" fill="#a4a4a4"/>
<rect x="145.8" y="627.3" width="8.90" height="8.68" fill="#afafaf"/>
<rect x="154.3" y="627.3" width="8.90" height="8.68" fill="#b9b9b9"/>
<rect x="162.8" y="627.3" width="8.90" height="8.68" fill="#c5c5c5"/>
<rect x="171.3" y="627.3" width="8.90" height="8.68" fill="#d5d5d5"/>
<rect x="179.8" y="627.3" width="8.90" height="8.68" fill="#e8e8e8"/>
<rect x="188.3" y="627.3" width="8.90" height="8.68" fill="#fdfdfd"/>
<rect x="196.8" y="627.3" width="8.90" height="8.68" fill="#ffffff"/>
<rect x="205.3" y="627.3" width="8.90" height="8.68" fill="#ffffff"/>
<rect x="213.8" y="627.3" width="8.90" height="8.68" fill="#f9f9f9"/>
<rect x="222.3" y="627.3" width="8.90" height="8.68" fill="#e1e1e1"/>
<rect x="230.8" y="627.3" width="8.90" height="8.68" fill="#cccccc"/>
<rect x="239.3" y="627.3" width="8.90" height="8.68" fill="#b6b6b6"/>
<rect x="247.8" y="627.3" width="8.90" height="8.68" fill="#acacac"/>
<rect x="264.8" y="627.3" width="8.90" height="8.68" fill="#a5a5a5"/>
<rect x="290.3" y="627.3" width="8.90" height="8.68" fill="#a5a5a5"/>
<rect x="35.3" y="635.6" width="8.90" height="8.68" fill="#a4a4a4"/>
<rect x="43.8" y="635.6" width="8.90" height="8.68" fill="#a7a7a7"/>
<rect x="52.3" y="635.6" width="8.90" height="8.68" fill="#a5a5a5"/>
<rect x="77.8" y="635.6" width="8.90" height="8.68" fill="#9b9b9b"/>
<rect x="86.3" y="635.6" width="8.90" height="8.68" fill="#9d9d9d"/>
<rect x="94.8" y="635.6" width="8.90" height="8.68" fill="#999999"/>
<rect x="103.3" y="635.6" width="8.90" height="8.68" fill="#959595"/>
<rect x="111.8" y="635.6" width="8.90" height="8.68" fill="#9a9a9a"/>
<rect x="120.3" y="635.6" width="8.90" height="8.68" fill="#9b9b9b"/>
<rect x="128.8" y="635.6" width="8.90" height="8.68" fill="#9e9e9e"/>
<rect x="137.3" y="635.6" width="8.90" height="8.68" fill="#a7a7a7"/>
<rect x="145.8" y="635.6" width="8.90" height="8.68" fill="#a7a7a7"/>
<rect x="154.3" y="635.6" width="8.90" height="8.68" fill="#aeaeae"/>
<rect x="162.8" y="635.6" width="8.90" height="8.68" fill="#b4b4b4"/>
<rect x="171.3" y="635.6" width="8.90" height="8.68" fill="#bbbbbb"/>
<rect x="179.8" y="635.6" width="8.90" height="8.68" fill="#c3c3c3"/>
<rect x="188.3" y="635.6" width="8.90" height="8.68" fill="#cdcdcd"/>
<rect x="196.8" y="635.6" width="8.90" height="8.68" fill="#c4c4c4"/>
<rect x="205.3" y="635.6" width="8.90" height="8.68" fill="#c2c2c2"/>
<rect x="213.8" y="635.6" width="8.90" height="8.68" fill="#c0c0c0"/>
<rect x="222.3" y="635.6" width="8.90" height="8.68" fill="#b7b7b7"/>
<rect x="230.8" y="635.6" width="8.90" height="8.68" fill="#b2b2b2"/>
<rect x="239.3" y="635.6" width="8.90" height="8.68" fill="#aaaaaa"/>
<rect x="247.8" y="635.6" width="8.90" height="8.68" fill="#a7a7a7"/>
<rect x="307.3" y="635.6" width="8.90" height="8.68" fill="#a5a5a5"/>
<rect x="9.8" y="643.9" width="8.90" height="8.68" fill="#a5a5a5"/>
<rect x="43.8" y="643.9" width="8.90" height="8.68" fill="#a6a6a6"/>
<rect x="52.3" y="643.9" width="8.90" height="8.68" fill="#a8a8a8"/>
<rect x="60.8" y="643.9" width="8.90" height="8.68" fill="#a5a5a5"/>
<rect x="77.8" y="643.9" width="8.90" height="8.68" fill="#9d9d9d"/>
<rect x="86.3" y="643.9" width="8.90" height="8.68" fill="#9e9e9e"/>
<rect x="94.8" y="643.9" width="8.90" height="8.68" fill="#9b9b9b"/>
<rect x="103.3" y="643.9" width="8.90" height="8.68" fill="#9d9d9d"/>
<rect x="111.8" y="643.9" width="8.90" height="8.68" fill="#9e9e9e"/>
<rect x="120.3" y="643.9" width="8.90" height="8.68" fill="#9d9d9d"/>
<rect x="162.8" y="643.9" width="8.90" height="8.68" fill="#a7a7a7"/>
<rect x="171.3" y="643.9" width="8.90" height="8.68" fill="#a9a9a9"/>
<rect x="179.8" y="643.9" width="8.90" height="8.68" fill="#afafaf"/>
<rect x="188.3" y="643.9" width="8.90" height="8.68" fill="#b2b2b2"/>
<rect x="196.8" y="643.9" width="8.90" height="8.68" fill="#a7a7a7"/>
<rect x="205.3" y="643.9" width="8.90" height="8.68" fill="#a5a5a5"/>
<rect x="213.8" y="643.9" width="8.90" height="8.68" fill="#a8a8a8"/>
<rect x="222.3" y="643.9" width="8.90" height="8.68" fill="#a8a8a8"/>
<rect x="230.8" y="643.9" width="8.90" height="8.68" fill="#a6a6a6"/>
<rect x="239.3" y="643.9" width="8.90" height="8.68" fill="#a5a5a5"/>
<rect x="247.8" y="643.9" width="8.90" height="8.68" fill="#a5a5a5"/>
<rect x="273.3" y="643.9" width="8.90" height="8.68" fill="#a6a6a6"/>
<rect x="281.8" y="643.9" width="8.90" height="8.68" fill="#a4a4a4"/>
<rect x="290.3" y="643.9" width="8.90" height="8.68" fill="#9d9d9d"/>
<rect x="341.3" y="643.9" width="8.90" height="8.68" fill="#9e9e9e"/>
<rect x="52.3" y="652.1" width="8.90" height="8.68" fill="#9d9d9d"/>
<rect x="77.8" y="652.1" width="8.90" height="8.68" fill="#9a9a9a"/>
<rect x="86.3" y="652.1" width="8.90" height="8.68" fill="#989898"/>
<rect x="94.8" y="652.1" width="8.90" height="8.68" fill="#9d9d9d"/>
<rect x="103.3" y="652.1" width="8.90" height="8.68" fill="#9d9d9d"/>
<rect x="128.8" y="652.1" width="8.90" height="8.68" fill="#9d9d9d"/>
<rect x="154.3" y="652.1" width="8.90" height="8.68" fill="#a5a5a5"/>
<rect x="171.3" y="652.1" width="8.90" height="8.68" fill="#a4a4a4"/>
<rect x="188.3" y="652.1" width="8.90" height="8.68" fill="#a8a8a8"/>
<rect x="196.8" y="652.1" width="8.90" height="8.68" fill="#a6a6a6"/>
<rect x="205.3" y="652.1" width="8.90" height="8.68" fill="#a7a7a7"/>
<rect x="222.3" y="652.1" width="8.90" height="8.68" fill="#9c9c9c"/>
<rect x="247.8" y="652.1" width="8.90" height="8.68" fill="#9e9e9e"/>
<rect x="264.8" y="652.1" width="8.90" height="8.68" fill="#a4a4a4"/>
<rect x="281.8" y="652.1" width="8.90" height="8.68" fill="#a5a5a5"/>
<rect x="290.3" y="652.1" width="8.90" height="8.68" fill="#a4a4a4"/>
<rect x="298.8" y="652.1" width="8.90" height="8.68" fill="#9b9b9b"/>
<rect x="307.3" y="652.1" width="8.90" height="8.68" fill="#9b9b9b"/>
<rect x="315.8" y="652.1" width="8.90" height="8.68" fill="#a6a6a6"/>
<rect x="341.3" y="652.1" width="8.90" height="8.68" fill="#9d9d9d"/>
<rect x="18.3" y="660.4" width="8.90" height="8.68" fill="#9e9e9e"/>
<rect x="35.3" y="660.4" width="8.90" height="8.68" fill="#a4a4a4"/>
<rect x="77.8" y="660.4" width="8.90" height="8.68" fill="#9a9a9a"/>
<rect x="86.3" y="660.4" width="8.90" height="8.68" fill="#9b9b9b"/>
<rect x="120.3" y="660.4" width="8.90" height="8.68" fill="#a5a5a5"/>
<rect x="128.8" y="660.4" width="8.90" height="8.68" fill="#9d9d9d"/>
<rect x="137.3" y="660.4" width="8.90" height="8.68" fill="#9d9d9d"/>
<rect x="179.8" y="660.4" width="8.90" height="8.68" fill="#9e9e9e"/>
<rect x="196.8" y="660.4" width="8.90" height="8.68" fill="#a5a5a5"/>
<rect x="213.8" y="660.4" width="8.90" height="8.68" fill="#9e9e9e"/>
<rect x="222.3" y="660.4" width="8.90" height="8.68" fill="#9d9d9d"/>
<rect x="264.8" y="660.4" width="8.90" height="8.68" fill="#a4a4a4"/>
<rect x="273.3" y="660.4" width="8.90" height="8.68" fill="#a5a5a5"/>
<rect x="290.3" y="660.4" width="8.90" height="8.68" fill="#a4a4a4"/>
<rect x="298.8" y="660.4" width="8.90" height="8.68" fill="#999999"/>
<rect x="307.3" y="660.4" width="8.90" height="8.68" fill="#9e9e9e"/>
<rect x="324.3" y="660.4" width="8.90" height="8.68" fill="#a6a6a6"/>
<rect x="332.8" y="660.4" width="8.90" height="8.68" fill="#9c9c9c"/>
<rect x="9.8" y="668.7" width="8.90" height="8.68" fill="#a5a5a5"/>
<rect x="18.3" y="668.7" width="8.90" height="8.68" fill="#9d9d9d"/>
<rect x="35.3" y="668.7" width="8.90" height="8.68" fill="#a4a4a4"/>
<rect x="60.8" y="668.7" width="8.90" height="8.68" fill="#a4a4a4"/>
<rect x="94.8" y="668.7" width="8.90" height="8.68" fill="#9d9d9d"/>
<rect x="111.8" y="668.7" width="8.90" height="8.68" fill="#9d9d9d"/>
<rect x="120.3" y="668.7" width="8.90" height="8.68" fill="#9e9e9e"/>
<rect x="128.8" y="668.7" width="8.90" height="8.68" fill="#a5a5a5"/>
<rect x="137.3" y="668.7" width="8.90" height="8.68" fill="#a4a4a4"/>
<rect x="171.3" y="668.7" width="8.90" height="8.68" fill="#999999"/>
<rect x="179.8" y="668.7" width="8.90" height="8.68" fill="#9b9b9b"/>
<rect x="196.8" y="668.7" width="8.90" height="8.68" fill="#9e9e9e"/>
<rect x="256.3" y="668.7" width="8.90" height="8.68" fill="#9d9d9d"/>
<rect x="281.8" y="668.7" width="8.90" height="8.68" fill="#a6a6a6"/>
<rect x="324.3" y="668.7" width="8.90" height="8.68" fill="#9d9d9d"/>
<rect x="341.3" y="668.7" width="8.90" height="8.68" fill="#9c9c9c"/>
<rect x="35.3" y="677.0" width="8.90" height="8.68" fill="#9e9e9e"/>
<rect x="43.8" y="677.0" width="8.90" height="8.68" fill="#989898"/>
<rect x="52.3" y="677.0" width="8.90" height="8.68" fill="#9c9c9c"/>
<rect x="60.8" y="677.0" width="8.90" height="8.68" fill="#9d9d9d"/>
<rect x="69.3" y="677.0" width="8.90" height="8.68" fill="#9d9d9d"/>
<rect x="94.8" y="677.0" width="8.90" height="8.68" fill="#9b9b9b"/>
<rect x="103.3" y="677.0" width="8.90" height="8.68" fill="#9b9b9b"/>
<rect x="111.8" y="677.0" width="8.90" height="8.68" fill="#9b9b9b"/>
<rect x="120.3" y="677.0" width="8.90" height="8.68" fill="#9b9b9b"/>
<rect x="137.3" y="677.0" width="8.90" height="8.68" fill="#9e9e9e"/>
<rect x="145.8" y="677.0" width="8.90" height="8.68" fill="#a4a4a4"/>
<rect x="162.8" y="677.0" width="8.90" height="8.68" fill="#9d9d9d"/>
<rect x="171.3" y="677.0" width="8.90" height="8.68" fill="#969696"/>
<rect x="179.8" y="677.0" width="8.90" height="8.68" fill="#9b9b9b"/>
<rect x="196.8" y="677.0" width="8.90" height="8.68" fill="#9b9b9b"/>
<rect x="205.3" y="677.0" width="8.90" height="8.68" fill="#9d9d9d"/>
<rect x="281.8" y="677.0" width="8.90" height="8.68" fill="#a4a4a4"/>
<rect x="315.8" y="677.0" width="8.90" height="8.68" fill="#9e9e9e"/>
<rect x="324.3" y="677.0" width="8.90" height="8.68" fill="#9b9b9b"/>
<rect x="332.8" y="677.0" width="8.90" height="8.68" fill="#9c9c9c"/>
<rect x="341.3" y="677.0" width="8.90" height="8.68" fill="#9e9e9e"/>
<rect x="9.8" y="685.2" width="8.90" height="8.68" fill="#9d9d9d"/>
<rect x="18.3" y="685.2" width="8.90" height="8.68" fill="#9d9d9d"/>
<rect x="26.8" y="685.2" width="8.90" height="8.68" fill="#9b9b9b"/>
<rect x="35.3" y="685.2" width="8.90" height="8.68" fill="#989898"/>
<rect x="43.8" y="685.2" width="8.90" height="8.68" fill="#9c9c9c"/>
<rect x="52.3" y="685.2" width="8.90" height="8.68" fill="#9c9c9c"/>
<rect x="60.8" y="685.2" width="8.90" height="8.68" fill="#9b9b9b"/>
<rect x="69.3" y="685.2" width="8.90" height="8.68" fill="#9e9e9e"/>
<rect x="94.8" y="685.2" width="8.90" height="8.68" fill="#999999"/>
<rect x="103.3" y="685.2" width="8.90" height="8.68" fill="#959595"/>
<rect x="111.8" y="685.2" width="8.90" height="8.68" fill="#999999"/>
<rect x="120.3" y="685.2" width="8.90" height="8.68" fill="#9a9a9a"/>
<rect x="128.8" y="685.2" width="8.90" height="8.68" fill="#989898"/>
<rect x="137.3" y="685.2" width="8.90" height="8.68" fill="#9b9b9b"/>
<rect x="162.8" y="685.2" width="8.90" height="8.68" fill="#a6a6a6"/>
<rect x="171.3" y="685.2" width="8.90" height="8.68" fill="#9b9b9b"/>
<rect x="179.8" y="685.2" width="8.90" height="8.68" fill="#979797"/>
<rect x="188.3" y="685.2" width="8.90" height="8.68" fill="#989898"/>
<rect x="196.8" y="685.2" width="8.90" height="8.68" fill="#a6a6a6"/>
<rect x="205.3" y="685.2" width="8.90" height="8.68" fill="#a9a9a9"/>
<rect x="222.3" y="685.2" width="8.90" height="8.68" fill="#a4a4a4"/>
<rect x="247.8" y="685.2" width="8.90" height="8.68" fill="#9d9d9d"/>
<rect x="256.3" y="685.2" width="8.90" height="8.68" fill="#999999"/>
<rect x="264.8" y="685.2" width="8.90" height="8.68" fill="#a6a6a6"/>
<rect x="273.3" y="685.2" width="8.90" height="8.68" fill="#a5a5a5"/>
<rect x="332.8" y="685.2" width="8.90" height="8.68" fill="#9e9e9e"/>
<rect x="26.8" y="693.5" width="8.90" height="8.68" fill="#9b9b9b"/>
<rect x="35.3" y="693.5" width="8.90" height="8.68" fill="#9b9b9b"/>
<rect x="69.3" y="693.5" width="8.90" height="8.68" fill="#a4a4a4"/>
<rect x="94.8" y="693.5" width="8.90" height="8.68" fill="#9e9e9e"/>
<rect x="128.8" y="693.5" width="8.90" height="8.68" fill="#9b9b9b"/>
<rect x="137.3" y="693.5" width="8.90" height="8.68" fill="#9c9c9c"/>
<rect x="145.8" y="693.5" width="8.90" height="8.68" fill="#a4a4a4"/>
<rect x="205.3" y="693.5" width="8.90" height="8.68" fill="#a4a4a4"/>
<rect x="213.8" y="693.5" width="8.90" height="8.68" fill="#a4a4a4"/>
<rect x="247.8" y="693.5" width="8.90" height="8.68" fill="#9b9b9b"/>
<rect x="256.3" y="693.5" width="8.90" height="8.68" fill="#9e9e9e"/>
<rect x="273.3" y="693.5" width="8.90" height="8.68" fill="#a5a5a5"/>
<rect x="307.3" y="693.5" width="8.90" height="8.68" fill="#9e9e9e"/>
<rect x="324.3" y="693.5" width="8.90" height="8.68" fill="#9e9e9e"/>
</g></g>
<path d="M-4.1 614.5H364.4" stroke="#cc3a1e" stroke-width="2.6" stroke-dasharray="7 6.5" fill="none"/>
<path d="M9.2 1033.9H348.9" stroke="#e2e2e2" stroke-width="1.6"/>
<path d="M9.2 1034.2V717.6H348.9V1034.2" stroke="#222" stroke-width="1.4" fill="none"/>
<g stroke="#222" stroke-width="1.3">
<path d="M14.4 717.6v8.6"/>
<path d="M14.4 1033.7v-7.4"/>
<path d="M69.3 717.6v8.6"/>
<path d="M69.3 1033.7v-7.4"/>
<path d="M124.3 717.6v8.6"/>
<path d="M124.3 1033.7v-7.4"/>
<path d="M179.2 717.6v8.6"/>
<path d="M179.2 1033.7v-7.4"/>
<path d="M234.1 717.6v8.6"/>
<path d="M234.1 1033.7v-7.4"/>
<path d="M289.0 717.6v8.6"/>
<path d="M289.0 1033.7v-7.4"/>
<path d="M344.0 717.6v8.6"/>
<path d="M344.0 1033.7v-7.4"/>
<path d="M9.2 751.7h8.6"/>
<path d="M348.9 751.7h-8.6"/>
<path d="M9.2 818.0h8.6"/>
<path d="M348.9 818.0h-8.6"/>
<path d="M9.2 884.4h8.6"/>
<path d="M348.9 884.4h-8.6"/>
<path d="M9.2 951.3h8.6"/>
<path d="M348.9 951.3h-8.6"/>
<path d="M9.2 1017.9h8.6"/>
<path d="M348.9 1017.9h-8.6"/>
</g>
<polyline fill="none" stroke="#ff0000" stroke-width="1.4" stroke-linejoin="round" points="14.0,891.0 19.8,890.2 25.6,887.0 31.7,895.1 37.3,892.4 43.2,880.7 49.0,878.5 54.9,883.0 60.7,881.6 66.6,886.1 72.2,888.8 78.0,883.0 83.9,886.1 89.6,887.9 95.4,883.8 101.4,887.4 107.1,896.5 112.9,887.0 118.5,883.0 124.6,887.4 130.3,908.6 135.9,965.9 141.7,1029.2 147.4,1011.8 152.8,926.6 158.4,923.4 164.2,913.1 170.1,879.6 175.7,860.8 181.4,833.2 187.0,814.5 192.5,759.9 198.2,722.5 203.8,727.9 209.6,732.0 215.4,748.1 220.9,803.5 226.3,823.5 232.1,835.4 237.5,862.6 243.1,884.2 248.7,884.0 254.6,879.1 260.0,883.6 265.8,883.3 271.5,889.0 277.1,886.3 282.9,877.3 288.3,878.8 293.9,882.4 299.3,886.0 304.7,888.1 310.4,890.3 315.8,888.7 321.2,886.0 326.6,889.4 332.0,887.8 337.8,888.1 343.2,882.4"/>
<g fill="none" stroke="#ff2020" stroke-width="0.7">
<circle cx="14.0" cy="891.0" r="2.9"/>
<circle cx="19.8" cy="890.2" r="2.9"/>
<circle cx="25.6" cy="887.0" r="2.9"/>
<circle cx="31.7" cy="895.1" r="2.9"/>
<circle cx="37.3" cy="892.4" r="2.9"/>
<circle cx="43.2" cy="880.7" r="2.9"/>
<circle cx="49.0" cy="878.5" r="2.9"/>
<circle cx="54.9" cy="883.0" r="2.9"/>
<circle cx="60.7" cy="881.6" r="2.9"/>
<circle cx="66.6" cy="886.1" r="2.9"/>
<circle cx="72.2" cy="888.8" r="2.9"/>
<circle cx="78.0" cy="883.0" r="2.9"/>
<circle cx="83.9" cy="886.1" r="2.9"/>
<circle cx="89.6" cy="887.9" r="2.9"/>
<circle cx="95.4" cy="883.8" r="2.9"/>
<circle cx="101.4" cy="887.4" r="2.9"/>
<circle cx="107.1" cy="896.5" r="2.9"/>
<circle cx="112.9" cy="887.0" r="2.9"/>
<circle cx="118.5" cy="883.0" r="2.9"/>
<circle cx="124.6" cy="887.4" r="2.9"/>
<circle cx="130.3" cy="908.6" r="2.9"/>
<circle cx="135.9" cy="965.9" r="2.9"/>
<circle cx="141.7" cy="1029.2" r="2.9"/>
<circle cx="147.4" cy="1011.8" r="2.9"/>
<circle cx="152.8" cy="926.6" r="2.9"/>
<circle cx="158.4" cy="923.4" r="2.9"/>
<circle cx="164.2" cy="913.1" r="2.9"/>
<circle cx="170.1" cy="879.6" r="2.9"/>
<circle cx="175.7" cy="860.8" r="2.9"/>
<circle cx="181.4" cy="833.2" r="2.9"/>
<circle cx="187.0" cy="814.5" r="2.9"/>
<circle cx="192.5" cy="759.9" r="2.9"/>
<circle cx="198.2" cy="722.5" r="2.9"/>
<circle cx="203.8" cy="727.9" r="2.9"/>
<circle cx="209.6" cy="732.0" r="2.9"/>
<circle cx="215.4" cy="748.1" r="2.9"/>
<circle cx="220.9" cy="803.5" r="2.9"/>
<circle cx="226.3" cy="823.5" r="2.9"/>
<circle cx="232.1" cy="835.4" r="2.9"/>
<circle cx="237.5" cy="862.6" r="2.9"/>
<circle cx="243.1" cy="884.2" r="2.9"/>
<circle cx="248.7" cy="884.0" r="2.9"/>
<circle cx="254.6" cy="879.1" r="2.9"/>
<circle cx="260.0" cy="883.6" r="2.9"/>
<circle cx="265.8" cy="883.3" r="2.9"/>
<circle cx="271.5" cy="889.0" r="2.9"/>
<circle cx="277.1" cy="886.3" r="2.9"/>
<circle cx="282.9" cy="877.3" r="2.9"/>
<circle cx="288.3" cy="878.8" r="2.9"/>
<circle cx="293.9" cy="882.4" r="2.9"/>
<circle cx="299.3" cy="886.0" r="2.9"/>
<circle cx="304.7" cy="888.1" r="2.9"/>
<circle cx="310.4" cy="890.3" r="2.9"/>
<circle cx="315.8" cy="888.7" r="2.9"/>
<circle cx="321.2" cy="886.0" r="2.9"/>
<circle cx="326.6" cy="889.4" r="2.9"/>
<circle cx="332.0" cy="887.8" r="2.9"/>
<circle cx="337.8" cy="888.1" r="2.9"/>
<circle cx="343.2" cy="882.4" r="2.9"/>
</g>
<text transform="translate(24.2 1069.8) scale(1 1.040)" font-size="35.5" text-anchor="middle">28</text>
<text transform="translate(79.2 1069.8) scale(1 1.040)" font-size="35.5" text-anchor="middle">29</text>
<text transform="translate(134.3 1069.8) scale(1 1.040)" font-size="35.5" text-anchor="middle">30</text>
<text transform="translate(189.3 1069.8) scale(1 1.040)" font-size="35.5" text-anchor="middle">31</text>
<text transform="translate(244.4 1069.8) scale(1 1.040)" font-size="35.5" text-anchor="middle">32</text>
<text transform="translate(299.4 1069.8) scale(1 1.040)" font-size="35.5" text-anchor="middle">33</text>
<text transform="translate(354.5 1069.8) scale(1 1.040)" font-size="35.5" text-anchor="middle">34</text>
<text transform="translate(137.7 1109.2) scale(1 1.040)" font-size="30">Q / nm</text>
<text transform="translate(227.1 1099.2) scale(1 1.040)" font-size="17.3">-1</text>
</svg></body></html>
